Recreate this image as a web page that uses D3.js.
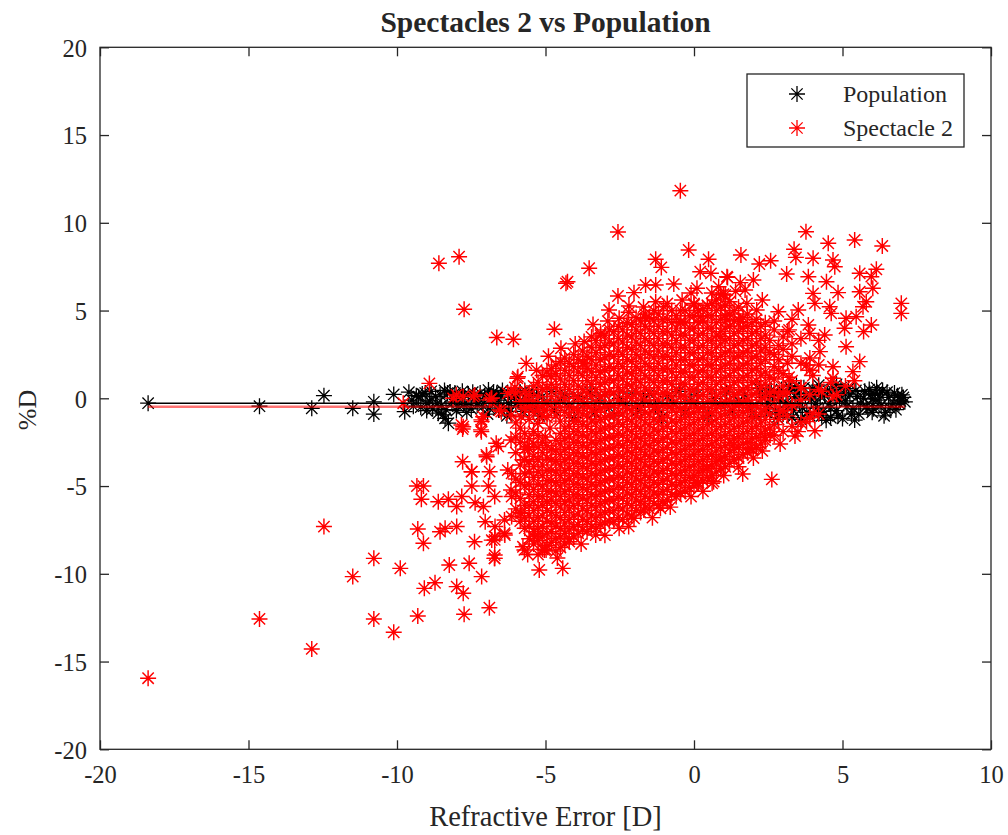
<!DOCTYPE html>
<html><head><meta charset="utf-8">
<script src="https://cdn.jsdelivr.net/npm/d3@7"></script>
<style>
body{margin:0;background:#fff}
text{font-family:"Liberation Serif","Times New Roman",serif;fill:#262626}
</style>
</head><body>
<svg id="c" width="1008" height="835"></svg>
<script>
const chartTitle = "Spectacles 2 vs Population";
const xLabel = "Refractive Error [D]";
const yLabel = "%D";
const xTicks = [-20,-15,-10,-5,0,5,10];
const yTicks = [-20,-15,-10,-5,0,5,10,15,20];
const seriesNames = ["Population","Spectacle 2"];
const meanLevels = [-0.28,-0.48];
const lineRange = [-18.38,7.1];

const populationPoints = [
[-18.38,-0.28],[-14.63,-0.45],[-12.87,-0.57],[-12.46,0.15],[-11.49,-0.57],[-10.78,-0.2],[-10.78,-0.9],[-10.11,0.22],[-9.74,-0.76],
[-9.27,0.09],[-8.99,-0.28],[-8.55,0.19],[-8.21,0.36],[-8.61,-0.85],[-8.38,-1.14],[-8.27,-1.42],[-7.71,-0.28],[-6.92,0.47],[-6.64,0.28],[-7.26,0.0],[-6.58,-0.66],[-6.25,-0.28],
[-9.5,-0.1],[-9.35,0.15],[-9.2,-0.5],[-9.05,0.3],[-8.9,-0.15],[-8.8,-0.6],[-8.7,0.1],[-8.5,-0.4],[-8.45,-0.95],[-8.3,0.3],[-8.15,-0.2],[-8.0,-0.7],[-7.9,0.05],[-7.75,-0.35],[-7.6,0.25],[-7.5,-0.6],[-7.35,-0.15],[-7.2,0.3],[-7.1,-0.45],[-6.95,-0.9],[-6.85,0.1],[-6.7,-0.3],[-6.5,0.2],[-6.4,-0.55],[-6.3,-1.0],[-6.15,0.05],[-6.0,-0.4],[-5.85,0.35],[-5.75,-0.75],[-5.6,-0.1],[-5.45,0.3],[-5.35,-0.5],[-5.2,-1.0],[-5.1,0.1],[-4.95,-0.3],[-4.8,0.4],[-4.7,-0.7],[-4.5,-0.1],[-4.35,0.25],[-4.2,-0.5],[-4.05,-1.1],[-3.9,0.1],[-3.7,-0.3],[-3.5,0.35],[-3.35,-0.8],[-3.2,-0.1],[-3.0,0.2],[-2.85,-0.55],[-2.7,-1.0],[-2.5,0.0],[-2.3,-0.4],[-2.1,0.3],[-1.9,-0.7],[-1.7,-0.1],[-1.5,0.25],[-1.3,-0.5],[-1.1,-1.1],[-0.9,0.1],[-0.7,-0.3],[-0.5,0.4],[-0.3,-0.8],[-0.1,-0.1],[0.1,0.2],[0.3,-0.5],[0.5,-1.0],[0.7,0.0],[0.9,-0.35],[1.1,0.35],[1.3,-0.7],[1.5,-0.15],[1.7,0.2],[1.9,-0.55],[2.1,-1.05],[2.3,0.05],[2.5,-0.3],[2.6,0.45],[2.75,-0.75],[2.9,-0.1],[3.0,0.3],[3.15,-0.5],[3.3,-1.1],[3.4,0.1],[3.55,-0.3],[3.7,0.6],[3.8,-0.8],[3.95,-0.05],[4.05,0.35],[4.15,-0.55],[4.3,-1.0],[4.4,0.15],[4.55,-0.3],[4.65,0.5],[4.8,-0.7],[4.9,-0.1],[5.05,0.3],[5.15,-0.45],[5.3,-0.9],[5.41,-1.24],[5.5,0.1],[5.6,-0.3],[5.75,0.4],[5.85,-0.6],[6.0,-0.05],[6.1,0.25],[6.25,0.19],[6.3,-0.4],[6.45,-0.8],[6.55,0.05],[6.7,-0.3],[6.85,0.15],[6.95,-0.15],[7.1,-0.2],[7.05,0.05],
[3.2,0.7],[4.2,0.75],[5.2,0.55],[2.2,0.55],[3.6,-1.2],[4.6,-1.1],[6.0,-0.8],[6.5,0.35],[5.9,0.5],
[2.45,-0.6],[2.65,0.15],[2.8,-1.1],[2.95,0.5],[3.1,-0.25],[3.25,0.45],[3.35,-0.7],[3.5,0.3],[3.65,-0.55],[3.75,0.1],[3.9,-1.0],[4.0,0.55],[4.1,-0.3],[4.25,0.1],[4.35,-0.75],[4.5,0.45],[4.6,-0.55],[4.75,0.1],[4.85,-1.0],[4.95,0.6],[5.1,-0.15],[5.25,0.2],[5.35,-0.6],[5.45,0.45],[5.55,-0.9],[5.7,0.0],[5.8,-0.45],[5.95,0.2],[6.05,-0.6],[6.2,-0.1],[6.35,0.45],[6.4,-1.0],[6.6,-0.55],[6.75,0.3],[6.8,-0.65],[6.9,-0.3],[7.0,0.2],[3.0,-0.9],[4.45,-1.25],[5.0,-1.15],[3.45,0.7],[4.8,0.8],[2.5,0.3],[6.15,0.6],
[-9.6,0.35],[-9.45,-0.45],[-9.15,0.25],[-9.0,-0.7],[-8.85,0.4],[-8.65,-0.3],[-8.4,0.45],[-8.35,-0.65],[-8.05,0.3],[-7.95,-0.45],[-7.8,0.4],[-7.65,-0.8],[-7.45,0.35],[-7.3,-0.4],[-7.05,0.15],[-6.9,-0.55],[-6.75,0.35],[-6.6,-0.1],[-6.45,0.45],[-6.2,-0.75],[-6.05,0.3],[-5.9,-0.2],[-5.7,0.45],[-5.55,-0.55],[-5.3,0.2]
];

const spectacleOuterPoints = [
[-18.38,-15.95],[-14.63,-12.57],[-12.87,-14.28],[-12.46,-7.31],[-11.49,-10.16],[-10.78,-9.12],[-10.78,-12.57],[-10.11,-13.33],[-9.89,-9.69],[-9.30,-12.41],[-9.33,-5.0],[-9.11,-5.0],[-9.18,-5.75],[-9.30,-7.45],[-9.11,-8.26],[-9.08,-10.83],[-8.72,-10.51],[-8.59,7.69],[-7.91,8.07],[-7.74,5.07],[-8.91,0.85],[-8.61,-5.89],[-8.55,-7.6],[-8.38,-7.41],[-8.27,-5.75],[-7.99,-6.17],[-7.99,-7.31],[-8.24,-9.5],[-7.99,-10.73],[-7.77,-11.11],[-7.74,-12.31],[-7.57,-9.4],[-7.79,-3.61],[-7.79,-1.75],[-7.17,-1.8],[-7.48,-4.18],[-7.48,-5.0],[-7.82,-5.6],[-7.37,-5.95],[-7.09,-6.17],[-7.15,-10.16],[-6.89,-11.93],[-6.72,-9.12],[-7.39,-8.17],[-7.03,-7.03],[-6.81,-8.08],[-6.70,-7.31],[-6.37,-7.79],[-6.64,3.47],[-6.08,3.36],[-6.98,-3.33],[-6.59,-2.75],[-6.03,0.62],[-6.14,-4.28],[-6.92,-5.0],[-6.14,-5.6],[-6.14,-6.74],[-7.15,-1.33],[-7.77,0.1],[-7.43,0.1],[-6.81,0.0],
[-4.70,3.93],[-4.48,2.85],[-4.31,6.55],[-5.65,1.99],[-5.95,1.14],[-4.81,1.23],[-8.0,0.19],[-7.38,0.19],[-6.83,0.0],[-6.16,0.38],[-5.65,-0.1],[-6.49,-0.76],[-7.1,-1.05],[-7.77,-1.62],[-7.16,-1.9],[-6.16,-0.95],[-6.66,-2.56],[-6.99,-3.23],[-7.49,-4.18],[-6.88,-4.18],[-6.16,-2.38],[-5.60,-2.76],[-6.27,-4.09],[-5.71,-3.52],[-6.71,-5.6],[-6.16,-5.22],[-6.71,-7.88],[-6.38,-6.93],[-5.82,-6.55],[-5.38,-7.88],[-5.04,-8.64],[-5.71,-8.64],[-6.71,-8.93],
[-9.79,-0.28],[-8.11,0.0],[-6.88,-0.1],[-6.27,0.28],[-5.93,1.23],[-6.55,-0.67],[-7.83,-1.52],[-7.16,-1.23],[-5.82,-1.05],[-5.04,-0.67],[-5.26,-1.42],
[-0.46,11.83],[-2.56,9.48],[-0.18,8.45],[-1.29,7.92],[-1.10,7.46],[0.49,7.92],[0.21,7.21],[0.57,7.12],[-3.53,7.41],[-4.26,6.64],[1.11,6.93],[-1.63,6.46],[-1.29,6.46],[-0.68,6.51],[0.10,6.27],[0.83,6.36],[-2.56,5.83],[-2.02,6.02],[0.99,5.94],[-2.19,5.26],[-1.29,5.5],[-1.02,5.22],[-0.40,5.6],[0.0,5.32],[-2.86,5.03],[-2.52,4.56],[-1.63,4.56],[-3.70,3.23],[-3.14,3.70],[-0.46,4.37],[0.21,4.65],
[3.77,9.49],[4.52,8.83],[5.41,9.02],[6.34,8.68],[1.58,8.17],[3.37,8.49],[2.58,7.84],[2.20,7.65],[3.43,8.03],[4.01,7.98],[4.68,7.88],[4.74,7.5],[3.12,7.08],[3.85,6.93],[5.58,7.12],[6.14,7.35],[5.97,6.93],[1.13,6.89],[1.56,6.59],[2.00,6.74],[4.46,6.64],[4.01,5.98],[4.85,6.02],[5.58,6.07],[6.02,6.27],[1.05,5.89],[1.72,6.17],[6.98,5.41],[6.98,4.84],[5.80,5.5],[4.07,5.41],[4.57,5.22],[5.69,5.22],[1.78,5.41],[2.11,5.03],[2.84,4.93],[3.51,5.03],[4.62,4.84],[5.12,4.56],[5.46,4.65],[5.97,4.18],[5.71,3.80],[5.07,3.99],[4.40,3.61],[3.85,4.18],[5.12,2.94],[5.58,2.09],[5.35,1.52],[4.68,1.80],[4.68,1.14],[4.24,2.66],[3.79,1.90],[1.11,4.46],[1.56,4.37],[0.88,3.51],
[-5.21,-9.78],[-4.42,-9.69],[-6.71,-9.12],[-5.76,-8.46],[-4.98,-8.64],[-4.20,-8.17],[-3.31,-7.79],[-2.52,-7.41],[-2.02,-6.84],[-1.13,-6.27],[-1.69,-6.36],[-0.46,-5.41],[0.10,-4.84],[0.66,-4.75],[0.88,-3.52],[0.44,-3.99],[-5.26,-7.79],[-6.38,-7.69],[-6.71,-8.07],
[2.62,-4.62],[1.64,-4.31],[0.61,-4.84],[1.89,-2.85],[1.33,-2.66],[2.39,-2.22],[2.56,-2.09],[3.40,-2.15],[4.07,-1.85],[3.79,-1.33],[4.01,-0.85],[2.90,-0.76],
[3.2,1.2],[3.6,0.6],[4.0,1.3],[4.3,0.4],[4.6,0.9],[3.3,-0.4],[4.8,0.2],[5.1,0.7],[5.4,1.0],[3.0,0.3],[4.68,0.1],
[-5.3,1.6],[-4.9,2.4],[-4.0,3.1],[-3.7,2.0],[-3.4,4.2],[-2.9,4.4],[-2.2,4.9],[-1.7,5.2],[-0.9,5.4],[-0.1,6.0],[0.6,6.0],[1.4,6.1],[2.3,5.6],[2.7,4.4],[3.2,3.9],
[-5.6,-8.9],[-4.6,-9.1],[-3.8,-8.3],[-3.0,-7.8],[-2.2,-7.3],[-1.4,-6.8],[-0.8,-6.2],[-0.1,-5.6],[0.3,-5.3],[1.0,-4.4],[1.5,-3.9],[2.0,-3.4],[2.3,-3.0],[2.9,-2.6],[3.5,-1.9],
[-4.85,-1.7],[-5.0,-2.2]
];

const spectacleCoreColumns = [
[-6.0,[-6.3,-5.4,-4.6,-3.1,-2.2,-1.4,0.3]],
[-5.7,[-7.4,-6.8,-6.1,-5.0,-4.3,-3.5,-2.9,-2.0,-0.6,0.4]],
[-5.4,[-8.3,-7.6,-7.0,-6.4,-5.9,-5.2,-4.5,-3.9,-3.3,-2.6,-1.9,-0.8,-0.2,0.7]],
[-5.1,[-8.6,-7.9,-7.3,-6.7,-6.1,-5.6,-5.0,-4.4,-3.8,-3.1,-2.5,-1.0,-0.4,0.5,1.3]],
[-4.8,[-8.2,-7.6,-7.1,-6.5,-5.8,-5.3,-4.7,-4.1,-3.5,-2.9,-0.7,0.1,0.8,1.7]],
[-4.5,[-8.5,-7.9,-7.4,-6.8,-6.2,-5.6,-5.0,-4.4,-3.8,-3.2,-2.6,-2.0,-1.3,-0.5,0.3,1.1,2.1]],
[-4.2,[-8.0,-7.5,-6.9,-6.3,-5.8,-5.2,-4.6,-4.0,-3.4,-2.8,-2.2,-1.6,-1.0,-0.3,0.5,1.3,2.0]],
[-3.9,[-7.7,-7.2,-6.6,-6.0,-5.5,-4.9,-4.3,-3.7,-3.1,-2.5,-1.9,-1.3,-0.7,0.0,0.7,1.5,2.2]],
[-3.6,[-7.6,-7.0,-6.4,-5.8,-5.2,-4.6,-4.0,-3.4,-2.8,-2.2,-1.6,-1.0,-0.4,0.3,1.0,1.7,2.4]],
[-3.3,[-7.4,-6.8,-6.2,-5.6,-5.0,-4.4,-3.8,-3.2,-2.6,-2.0,-1.4,-0.8,-0.2,0.5,1.2,1.9,2.6,3.3]],
[-3.0,[-7.1,-6.5,-5.9,-5.3,-4.7,-4.1,-3.5,-2.9,-2.3,-1.7,-1.1,-0.5,0.2,0.9,1.6,2.3,3.0,3.6]],
[-2.7,[-7.0,-6.4,-5.8,-5.2,-4.6,-4.0,-3.4,-2.8,-2.2,-1.6,-1.0,-0.4,0.3,1.0,1.7,2.4,3.1,3.8]],
[-2.4,[-6.9,-6.3,-5.7,-5.1,-4.5,-3.9,-3.3,-2.7,-2.1,-1.5,-0.9,-0.3,0.4,1.1,1.8,2.5,3.2,3.9]],
[-2.1,[-6.7,-6.1,-5.5,-4.9,-4.3,-3.7,-3.1,-2.5,-1.9,-1.3,-0.7,0.0,0.7,1.4,2.1,2.8,3.5,4.2]],
[-1.8,[-6.5,-5.9,-5.3,-4.7,-4.1,-3.5,-2.9,-2.3,-1.7,-1.1,-0.5,0.2,0.9,1.6,2.3,3.0,3.7,4.4]],
[-1.5,[-6.3,-5.7,-5.1,-4.5,-3.9,-3.3,-2.7,-2.1,-1.5,-0.9,-0.3,0.4,1.1,1.8,2.5,3.2,3.9,4.6]],
[-1.2,[-6.1,-5.5,-4.9,-4.3,-3.7,-3.1,-2.5,-1.9,-1.3,-0.7,-0.1,0.6,1.3,2.0,2.7,3.4,4.1,4.8]],
[-0.9,[-5.8,-5.2,-4.6,-4.0,-3.4,-2.8,-2.2,-1.6,-1.0,-0.4,0.3,1.0,1.7,2.4,3.1,3.8,4.5]],
[-0.6,[-5.6,-5.0,-4.4,-3.8,-3.2,-2.6,-2.0,-1.4,-0.8,-0.2,0.5,1.2,1.9,2.6,3.3,4.0,4.7]],
[-0.3,[-5.3,-4.7,-4.1,-3.5,-2.9,-2.3,-1.7,-1.1,-0.5,0.1,0.8,1.5,2.2,2.9,3.6,4.3,5.0]],
[0.0,[-5.0,-4.4,-3.8,-3.2,-2.6,-2.0,-1.4,-0.8,-0.2,0.5,1.2,1.9,2.6,3.3,4.0,4.7,5.4]],
[0.3,[-4.7,-4.1,-3.5,-2.9,-2.3,-1.7,-1.1,-0.5,0.2,0.9,1.6,2.3,3.0,3.7,4.4,5.1]],
[0.6,[-4.4,-3.8,-3.2,-2.6,-2.0,-1.4,-0.8,-0.2,0.5,1.2,1.9,2.6,3.3,4.0,4.7,5.4]],
[0.9,[-4.0,-3.4,-2.8,-2.2,-1.6,-1.0,-0.4,0.3,1.0,1.7,2.4,3.1,3.8,4.5,5.2,5.9]],
[1.2,[-3.7,-3.1,-2.5,-1.9,-1.3,-0.7,-0.1,0.6,1.3,2.0,2.7,3.4,4.1,4.8,5.5]],
[1.5,[-3.4,-2.8,-2.2,-1.6,-1.0,-0.4,0.3,1.0,1.7,2.4,3.1,3.8,4.5,5.2]],
[1.8,[-3.1,-2.5,-1.9,-1.3,-0.7,-0.1,0.6,1.3,2.0,2.7,3.4,4.1,4.8]],
[2.1,[-2.8,-2.2,-1.6,-1.0,-0.4,0.3,1.0,1.7,2.4,3.1,3.8,4.5]],
[2.4,[-2.4,-1.8,-1.2,-0.6,0.1,0.8,1.5,2.2,2.9,3.6,4.3]],
[2.7,[-2.1,-1.5,-0.3,0.4,1.1,1.8,2.5,3.9]],
[3.0,[-1.9,-0.7,0.7,1.4,2.8,3.5]],
[3.3,[-1.6,-0.4,1.0,2.4,3.1,4.5]],
[3.6,[-1.4,-0.1,0.6,2.0,3.4]],
[3.9,[-1.1,0.2,1.6,2.3,3.7]],
[4.2,[-0.9,0.5,1.9,3.3]],
[-5.85,[-7.0,-6.5,-5.7,-4.8,-3.8,-2.5,-1.7,-0.2]],
[-5.55,[-8.0,-7.3,-6.7,-6.1,-5.5,-4.9,-4.2,-3.6,-2.9,-2.3,-1.2,-0.5,0.2]],
[-5.25,[-8.9,-8.1,-7.4,-6.8,-6.2,-5.6,-4.9,-4.2,-3.5,-2.8,-2.1,-0.7,0.1,0.9]],
[-4.95,[-8.4,-7.7,-7.0,-6.4,-5.9,-5.3,-4.7,-4.1,-3.4,-2.7,-1.1,-0.2,0.6,1.5]],
[-4.65,[-8.7,-8.0,-7.3,-6.7,-6.0,-5.4,-4.8,-4.2,-3.6,-3.0,-2.4,-1.0,-0.2,0.6,1.4,1.9]],
[-4.35,[-8.3,-7.7,-7.1,-6.5,-5.9,-5.3,-4.7,-4.1,-3.5,-2.9,-2.3,-1.7,-0.8,0.0,0.8,1.6,2.3]],
[-4.05,[-7.9,-7.3,-6.7,-6.1,-5.5,-4.9,-4.3,-3.7,-3.1,-2.5,-1.9,-1.3,-0.6,0.2,1.0,1.8,2.5]],
[-3.75,[-7.5,-6.9,-6.3,-5.7,-5.1,-4.5,-3.9,-3.3,-2.7,-2.1,-1.5,-0.9,-0.2,0.5,1.3,2.0,2.7]],
[-3.45,[-7.3,-6.7,-6.1,-5.5,-4.9,-4.3,-3.7,-3.1,-2.5,-1.9,-1.3,-0.6,0.1,0.8,1.5,2.2,2.9,3.5]],
[-3.15,[-7.2,-6.6,-6.0,-5.4,-4.8,-4.2,-3.6,-3.0,-2.4,-1.8,-1.2,-0.6,0.1,0.8,1.5,2.2,2.9,3.6]],
[-2.85,[-7.0,-6.4,-5.8,-5.2,-4.6,-4.0,-3.4,-2.8,-2.2,-1.6,-1.0,-0.3,0.4,1.1,1.8,2.5,3.2,3.9]],
[-2.55,[-6.8,-6.2,-5.6,-5.0,-4.4,-3.8,-3.2,-2.6,-2.0,-1.4,-0.8,-0.1,0.6,1.3,2.0,2.7,3.4,4.1]],
[-2.25,[-6.6,-6.0,-5.4,-4.8,-4.2,-3.6,-3.0,-2.4,-1.8,-1.2,-0.6,0.1,0.8,1.5,2.2,2.9,3.6,4.3]],
[-1.95,[-6.4,-5.8,-5.2,-4.6,-4.0,-3.4,-2.8,-2.2,-1.6,-1.0,-0.3,0.4,1.1,1.8,2.5,3.2,3.9,4.6]],
[-1.65,[-6.2,-5.6,-5.0,-4.4,-3.8,-3.2,-2.6,-2.0,-1.4,-0.8,-0.1,0.6,1.3,2.0,2.7,3.4,4.1,4.8]],
[-1.35,[-6.0,-5.4,-4.8,-4.2,-3.6,-3.0,-2.4,-1.8,-1.2,-0.5,0.2,0.9,1.6,2.3,3.0,3.7,4.4,5.0]],
[-1.05,[-5.9,-5.3,-4.7,-4.1,-3.5,-2.9,-2.3,-1.7,-1.1,-0.4,0.3,1.0,1.7,2.4,3.1,3.8,4.5]],
[-0.75,[-5.5,-4.9,-4.3,-3.7,-3.1,-2.5,-1.9,-1.3,-0.6,0.1,0.8,1.5,2.2,2.9,3.6,4.3,5.0]],
[-0.45,[-5.4,-4.8,-4.2,-3.6,-3.0,-2.4,-1.8,-1.2,-0.6,0.1,0.8,1.5,2.2,2.9,3.6,4.3,5.0]],
[-0.15,[-5.1,-4.5,-3.9,-3.3,-2.7,-2.1,-1.5,-0.9,-0.2,0.5,1.2,1.9,2.6,3.3,4.0,4.7]],
[0.15,[-4.8,-4.2,-3.6,-3.0,-2.4,-1.8,-1.2,-0.6,0.1,0.8,1.5,2.2,2.9,3.6,4.3,5.0]],
[0.45,[-4.5,-3.9,-3.3,-2.7,-2.1,-1.5,-0.9,-0.2,0.5,1.2,1.9,2.6,3.3,4.0,4.7,5.3]],
[0.75,[-4.2,-3.6,-3.0,-2.4,-1.8,-1.2,-0.6,0.1,0.8,1.5,2.2,2.9,3.6,4.3,5.0,5.6]],
[1.05,[-3.9,-3.3,-2.7,-2.1,-1.5,-0.9,-0.2,0.5,1.2,1.9,2.6,3.3,4.0,4.7,5.3]],
[1.35,[-3.5,-2.9,-2.3,-1.7,-1.1,-0.5,0.2,0.9,1.6,2.3,3.0,3.7,4.4,5.0]],
[1.65,[-3.2,-2.6,-2.0,-1.4,-0.8,-0.2,0.5,1.2,1.9,2.6,3.3,4.0,4.6]],
[1.95,[-2.9,-2.3,-1.7,-1.1,-0.5,0.2,0.9,1.6,2.3,3.0,3.7,4.3]],
[2.25,[-2.6,-2.0,-1.4,-0.8,-0.1,0.6,1.3,2.0,2.7,3.4,4.1]],
[2.55,[-1.7,-0.9,0.3,1.2,2.6,3.3]],
[2.85,[-1.2,0.1,1.6,2.2,3.0]],
[3.15,[-1.0,0.3,2.0,3.8]]
];

const spectaclePoints = spectacleOuterPoints.concat(
  spectacleCoreColumns.flatMap(([x, ys]) => ys.map(y => [x, y])));

const svg = d3.select("#c");
const axisColor = "#262626";
const x = d3.scaleLinear().domain([-20,10]).range([100,991]);
const y = d3.scaleLinear().domain([-20,20]).range([749.3,47.3]);

const R = 8, A = R * Math.SQRT1_2;
const starPath = `M${-R},0L${R},0M0,${-R}L0,${R}M${-A},${-A}L${A},${A}M${-A},${A}L${A},${-A}`;

svg.append("rect").attr("width",1008).attr("height",835).attr("fill","#fff");

const plot = svg.append("g");
plot.selectAll("path.pop").data(populationPoints).join("path")
  .attr("class","pop").attr("d",starPath)
  .attr("transform",d=>`translate(${x(d[0])},${y(d[1])})`)
  .attr("fill","none").attr("stroke","#000").attr("stroke-width",1.3);
plot.selectAll("path.spec").data(spectaclePoints).join("path")
  .attr("class","spec").attr("d",starPath)
  .attr("transform",d=>`translate(${x(d[0])},${y(d[1])})`)
  .attr("fill","none").attr("stroke","#ff0000").attr("stroke-width",1.45);

const lineGen = d3.line().x(d=>x(d[0])).y(d=>y(d[1]));
plot.append("path").attr("d",lineGen([[lineRange[0],meanLevels[0]],[lineRange[1],meanLevels[0]]]))
  .attr("stroke","#000").attr("stroke-width",1.5).attr("fill","none");
plot.append("path").attr("d",lineGen([[lineRange[0],meanLevels[1]],[lineRange[1],meanLevels[1]]]))
  .attr("stroke","#ff0000").attr("stroke-opacity",0.55).attr("stroke-width",2.5).attr("fill","none");

const box = svg.append("g");
box.append("rect").attr("x",x(-20)).attr("y",y(20)).attr("width",x(10)-x(-20)).attr("height",y(-20)-y(20))
  .attr("fill","none").attr("stroke",axisColor).attr("stroke-width",1.3);

const TL = 9;
const fmt = d => String(d);
const xb = svg.append("g").attr("transform",`translate(0,${y(-20)})`)
  .call(d3.axisBottom(x).tickValues(xTicks).tickSizeInner(-TL).tickSizeOuter(0).tickPadding(TL+10).tickFormat(fmt));
const xt = svg.append("g").attr("transform",`translate(0,${y(20)})`)
  .call(d3.axisTop(x).tickValues(xTicks).tickSizeInner(-TL).tickSizeOuter(0).tickFormat(""));
const yl = svg.append("g").attr("transform",`translate(${x(-20)},0)`)
  .call(d3.axisLeft(y).tickValues(yTicks).tickSizeInner(-TL).tickSizeOuter(0).tickPadding(13).tickFormat(fmt));
const yr = svg.append("g").attr("transform",`translate(${x(10)},0)`)
  .call(d3.axisRight(y).tickValues(yTicks).tickSizeInner(-TL).tickSizeOuter(0).tickFormat(""));
[xb,xt,yl,yr].forEach(g=>{
  g.select(".domain").remove();
  g.selectAll(".tick line").attr("stroke",axisColor).attr("stroke-width",1.3);
  g.selectAll(".tick text").attr("fill",axisColor).style("font-family",'"Liberation Serif",serif').style("font-size","24.5px");
});
xb.selectAll(".tick text").attr("dy","0.6em");
yl.selectAll(".tick text").attr("dy","0.36em");

svg.append("text").attr("x",545.5).attr("y",32).attr("text-anchor","middle")
  .style("font-size","29.5px").style("font-weight","bold").attr("fill","#000").text(chartTitle);
svg.append("text").attr("x",545.5).attr("y",826).attr("text-anchor","middle")
  .style("font-size","28.5px").text(xLabel);
svg.append("text").attr("transform","translate(36,410) rotate(-90)").attr("text-anchor","middle")
  .style("font-size","26px").text(yLabel);

const lg = svg.append("g");
lg.append("rect").attr("x",747).attr("y",74).attr("width",217).attr("height",73)
  .attr("fill","#fff").attr("stroke",axisColor).attr("stroke-width",1.3);
const legColors = ["#000","#ff0000"];
seriesNames.forEach((name,i)=>{
  const cy = 94 + i*34;
  lg.append("path").attr("d",starPath).attr("transform",`translate(797,${cy})`)
    .attr("fill","none").attr("stroke",legColors[i]).attr("stroke-width",1.3);
  lg.append("text").attr("x",843).attr("y",cy+8).style("font-size","24px").attr("fill","#000").text(name);
});
</script>
</body></html>
